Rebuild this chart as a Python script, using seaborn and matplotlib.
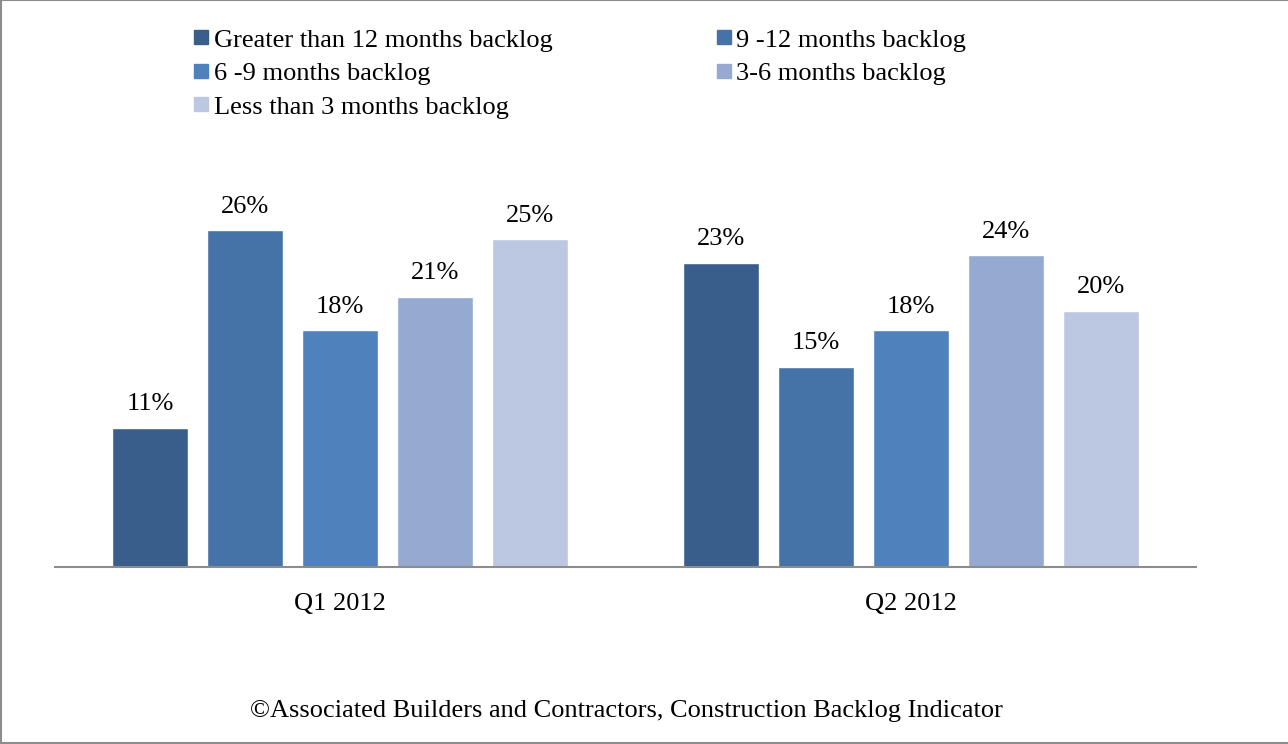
import pandas as pd
import seaborn as sns
import matplotlib.pyplot as plt
from matplotlib.lines import Line2D

# Datos
quarters = ['Q1 2012', 'Q2 2012']
series = ['Greater than 12 months backlog', '9 -12 months backlog', '6 -9 months backlog',
          '3-6 months backlog', 'Less than 3 months backlog']
q1_values = [10.7, 25.9, 18.2, 20.8, 25.2]
q2_values = [23.4, 15.4, 18.2, 24.0, 19.7]
colors = ['#3A5E8C', '#4573A7', '#4F81BD', '#96A9D0', '#BCC8E1']

rows = []
for s, v1, v2 in zip(series, q1_values, q2_values):
    rows.append({'Quarter': quarters[0], 'Backlog': s, 'Value': v1})
    rows.append({'Quarter': quarters[1], 'Backlog': s, 'Value': v2})
data = pd.DataFrame(rows)

sns.set_theme(style='white')
plt.rcParams['font.family'] = ['Liberation Serif', 'DejaVu Serif']
plt.rcParams['text.color'] = 'black'
plt.rcParams['xtick.color'] = 'black'

fig = plt.figure(figsize=(12.88, 7.44), dpi=100)
ax = fig.add_axes([55 / 1288, (744 - 567) / 744, 1141 / 1288, 430 / 744])

sns.barplot(data=data, x='Quarter', y='Value', hue='Backlog', order=quarters, hue_order=series,
            palette=colors, width=0.833, gap=0.2, saturation=1, legend=False, ax=ax)

for container in ax.containers:
    ax.bar_label(container, fmt='%.0f%%', padding=9, fontsize=19, color='black')

ax.set_xlim(-0.5, 1.5)
ax.set_ylim(0, 430 / 13)
ax.set_xlabel('')
ax.set_ylabel('')
ax.set_yticks([])
ax.tick_params(axis='x', length=0, labelsize=19, pad=19, labelcolor='black')
for side in ['top', 'right', 'left']:
    ax.spines[side].set_visible(False)
ax.spines['bottom'].set_color('#8C8C8C')
ax.spines['bottom'].set_linewidth(1.5)

# Leyenda en orden por filas
handles = [Line2D([], [], marker='s', linestyle='', markersize=10, color=c) for c in colors]
order = [0, 2, 4, 1, 3]
fig.legend([handles[i] for i in order], [series[i] for i in order],
           loc='upper left', bbox_to_anchor=(181 / 1288, 1 - 15 / 744), ncol=2,
           frameon=False, fontsize=19, handlelength=0.55, handletextpad=0.2,
           labelspacing=0.38, columnspacing=6.2, borderpad=0)

fig.text(626 / 1288, 1 - 711 / 744,
         '\u00a9Associated Builders and Contractors, Construction Backlog Indicator',
         ha='center', va='center', fontsize=19)

# Borde del grafico
for xs, ys in [([0.0005, 0.0005], [0, 1]), ([0, 1], [0.9995, 0.9995]), ([0, 1], [0.0008, 0.0008])]:
    fig.add_artist(Line2D(xs, ys, color='#8C8C8C', linewidth=1.5, transform=fig.transFigure))

fig.savefig('out.png', dpi=100)
